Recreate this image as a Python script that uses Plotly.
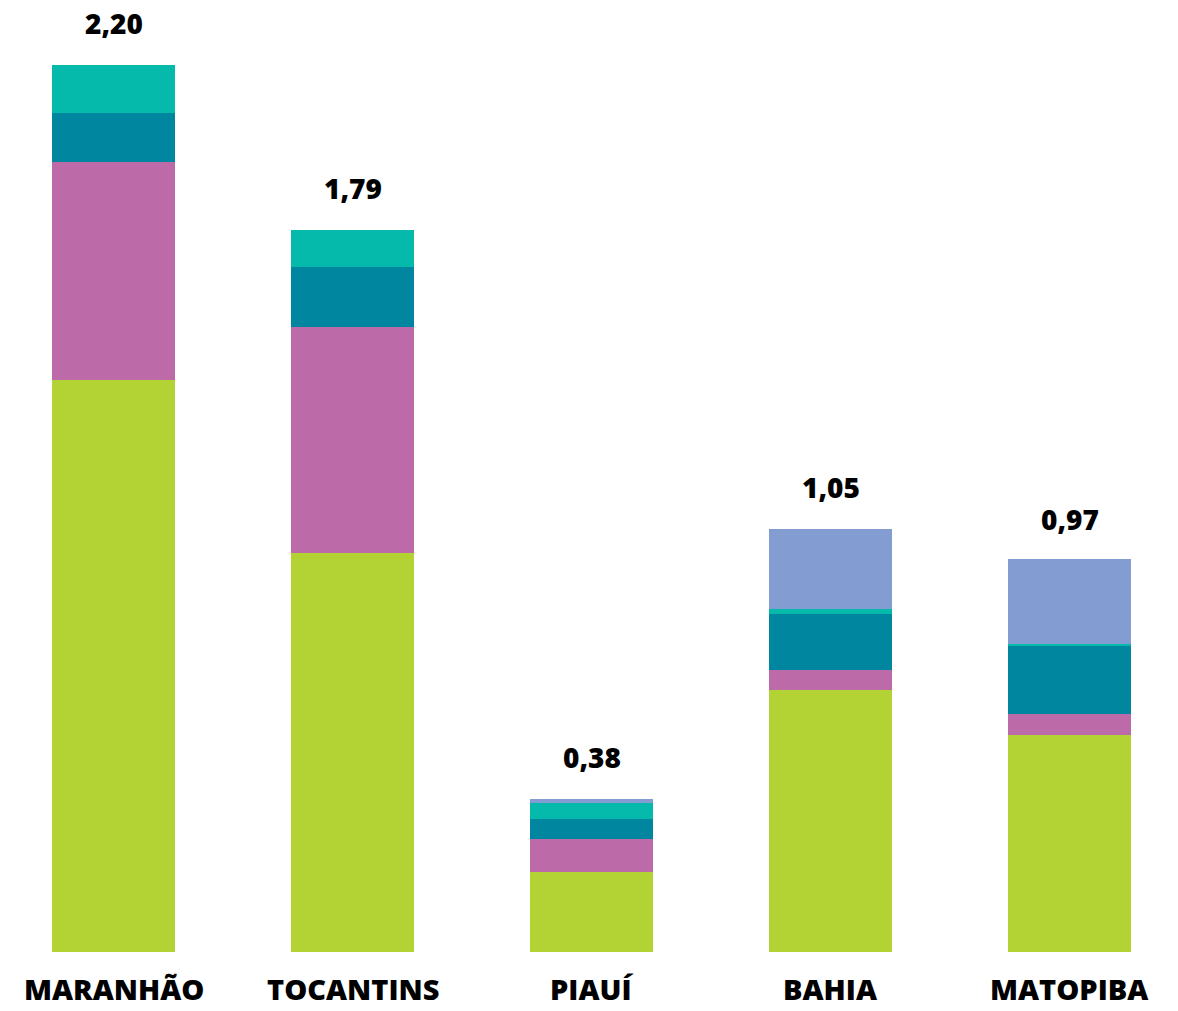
import plotly.graph_objects as go

categories = ["MARANHÃO", "TOCANTINS", "PIAUÍ", "BAHIA", "MATOPIBA"]
totals = [2.20, 1.79, 0.38, 1.05, 0.97]
total_labels = ["2,20", "1,79", "0,38", "1,05", "0,97"]

serie_verde = [1.419, 0.990, 0.198, 0.650, 0.538]
serie_magenta = [0.541, 0.560, 0.082, 0.050, 0.052]
serie_petroleo = [0.122, 0.149, 0.050, 0.139, 0.169]
serie_turquesa = [0.118, 0.091, 0.040, 0.012, 0.006]
serie_azul = [0.0, 0.0, 0.010, 0.199, 0.210]

series = [
    ("verde", serie_verde, "#b3d335"),
    ("magenta", serie_magenta, "#bc6aa8"),
    ("petroleo", serie_petroleo, "#00869e"),
    ("turquesa", serie_turquesa, "#05baab"),
    ("azul", serie_azul, "#839cd2"),
]

fig = go.Figure()
xs = list(range(len(categories)))
for name, vals, color in series:
    fig.add_trace(go.Bar(
        x=xs, y=vals, name=name, width=0.515,
        marker=dict(color=color, line=dict(width=0)),
        hoverinfo="skip",
    ))

font_family = "Open Sans, Lato, sans-serif"

for i, (t, lab) in enumerate(zip(totals, total_labels)):
    fig.add_annotation(
        x=i, y=t, text=lab, showarrow=False,
        xref="x", yref="y", yanchor="bottom", yshift=21,
        font=dict(family=font_family, size=28, color="#000000", weight=800),
    )

for i, cat in enumerate(categories):
    fig.add_annotation(
        x=i, y=0, text=cat, showarrow=False,
        xref="x", yref="y", yanchor="top", yshift=-16,
        borderpad=0,
        font=dict(family=font_family, size=29, color="#000000", weight=800),
    )

fig.update_layout(
    barmode="stack",
    width=1178, height=1011,
    margin=dict(l=0, r=0, t=0, b=59),
    paper_bgcolor="white", plot_bgcolor="white",
    showlegend=False,
    xaxis=dict(range=[-0.475, 4.454], visible=False, fixedrange=True),
    yaxis=dict(range=[0, 2.361], visible=False, fixedrange=True),
)

fig.write_html("out.html")
